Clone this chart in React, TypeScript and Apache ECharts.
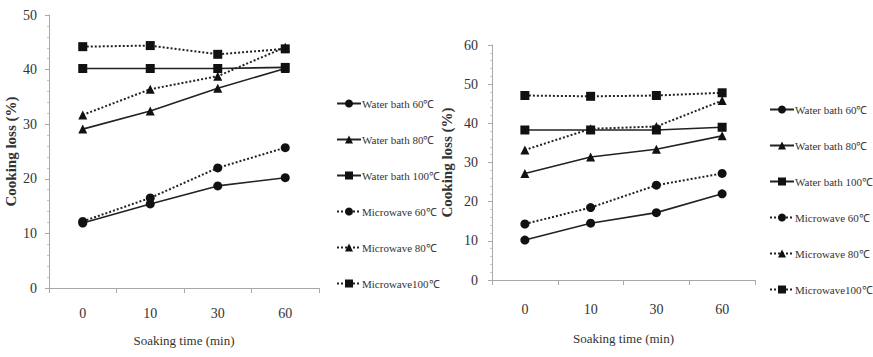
import React, { useEffect, useRef } from "react";
import * as echarts from "echarts";

const categories = ["0", "10", "30", "60"];
const seriesNames = [
  "Water bath 60℃",
  "Water bath 80℃",
  "Water bath 100℃",
  "Microwave 60℃",
  "Microwave 80℃",
  "Microwave100℃",
];
const symbols = ["circle", "triangle", "rect", "circle", "triangle", "rect"];

// Left panel values
const leftWater60 = [11.9, 15.4, 18.7, 20.2];
const leftWater80 = [29.1, 32.4, 36.6, 40.2];
const leftWater100 = [40.2, 40.2, 40.2, 40.4];
const leftMicro60 = [12.2, 16.5, 22.0, 25.7];
const leftMicro80 = [31.7, 36.4, 38.8, 44.1];
const leftMicro100 = [44.2, 44.4, 42.8, 43.8];

// Right panel values
const rightWater60 = [10.2, 14.5, 17.2, 22.0];
const rightWater80 = [27.2, 31.4, 33.4, 36.8];
const rightWater100 = [38.3, 38.3, 38.3, 39.0];
const rightMicro60 = [14.3, 18.5, 24.2, 27.2];
const rightMicro80 = [33.2, 38.6, 39.2, 45.8];
const rightMicro100 = [47.1, 46.9, 47.1, 47.8];

const leftData = [leftWater60, leftWater80, leftWater100, leftMicro60, leftMicro80, leftMicro100];
const rightData = [rightWater60, rightWater80, rightWater100, rightMicro60, rightMicro80, rightMicro100];

const FONT = "'Liberation Serif', 'Times New Roman', serif";
const TEXT = "#333";
const AXIS = "#a8a8a8";

export default function App() {
  const ref = useRef<HTMLDivElement>(null);
  useEffect(() => {
    if (!ref.current) return;
    const chart = echarts.init(ref.current, undefined, { renderer: "svg" });

    const makeX = (gridIndex: number, labelMargin: number, nameGap: number) => ({
      type: "category",
      gridIndex,
      data: categories,
      boundaryGap: true,
      axisLine: { lineStyle: { color: AXIS, width: 1 } },
      axisTick: { show: true, length: 5, lineStyle: { color: AXIS } },
      axisLabel: { color: TEXT, fontFamily: FONT, fontSize: 14, margin: labelMargin },
      name: "Soaking time (min)",
      nameLocation: "middle",
      nameGap,
      nameTextStyle: { color: TEXT, fontFamily: FONT, fontSize: 13 },
      splitLine: { show: false },
    });

    const makeY = (gridIndex: number, max: number, labelMargin: number, nameGap: number) => ({
      type: "value",
      gridIndex,
      min: 0,
      max,
      interval: 10,
      axisLine: { show: true, lineStyle: { color: AXIS, width: 1 } },
      axisTick: { show: true, length: 4, lineStyle: { color: AXIS } },
      minorTick: { show: true, splitNumber: 5, length: 2, lineStyle: { color: "#c8c8c8" } },
      axisLabel: { color: TEXT, fontFamily: FONT, fontSize: 14, margin: labelMargin },
      splitLine: { show: false },
      name: "Cooking loss (%)",
      nameLocation: "middle",
      nameGap,
      nameTextStyle: { color: TEXT, fontFamily: FONT, fontSize: 15, fontWeight: "bold" },
    });

    const makeSeries = (data: number[][], idx: number) =>
      data.map((vals, i) => ({
        type: "line",
        name: seriesNames[i],
        xAxisIndex: idx,
        yAxisIndex: idx,
        data: vals,
        symbol: symbols[i],
        symbolSize: 9,
        itemStyle: { color: "#111" },
        lineStyle: { color: "#222", width: i < 3 ? 1.6 : 2, type: i < 3 ? "solid" : "dotted" },
        z: 3,
      }));

    const legendBase = {
      orient: "vertical",
      itemWidth: 24,
      itemHeight: 10,
      itemGap: 25,
      padding: 0,
      data: seriesNames,
      textStyle: { color: TEXT, fontFamily: FONT, fontSize: 11, padding: [0, 0, 0, -4] },
      selectedMode: false,
    };

    chart.setOption({
      animation: false,
      backgroundColor: "#fff",
      grid: [
        { left: 49, top: 15, width: 270, height: 273 },
        { left: 492, top: 45, width: 263, height: 235 },
      ],
      xAxis: [makeX(0, 18, 46), makeX(1, 22, 52)],
      yAxis: [makeY(0, 50, 12, 31), makeY(1, 60, 14, 38)],
      legend: [
        { ...legendBase, left: 336, top: 98 },
        { ...legendBase, left: 769, top: 104 },
      ],
      series: [...makeSeries(leftData, 0), ...makeSeries(rightData, 1)],
    });
    return () => chart.dispose();
  }, []);
  return (
    <div
      ref={ref}
      style={{ position: "fixed", left: 0, top: 0, width: 873, height: 357, background: "#fff" }}
    />
  );
}
